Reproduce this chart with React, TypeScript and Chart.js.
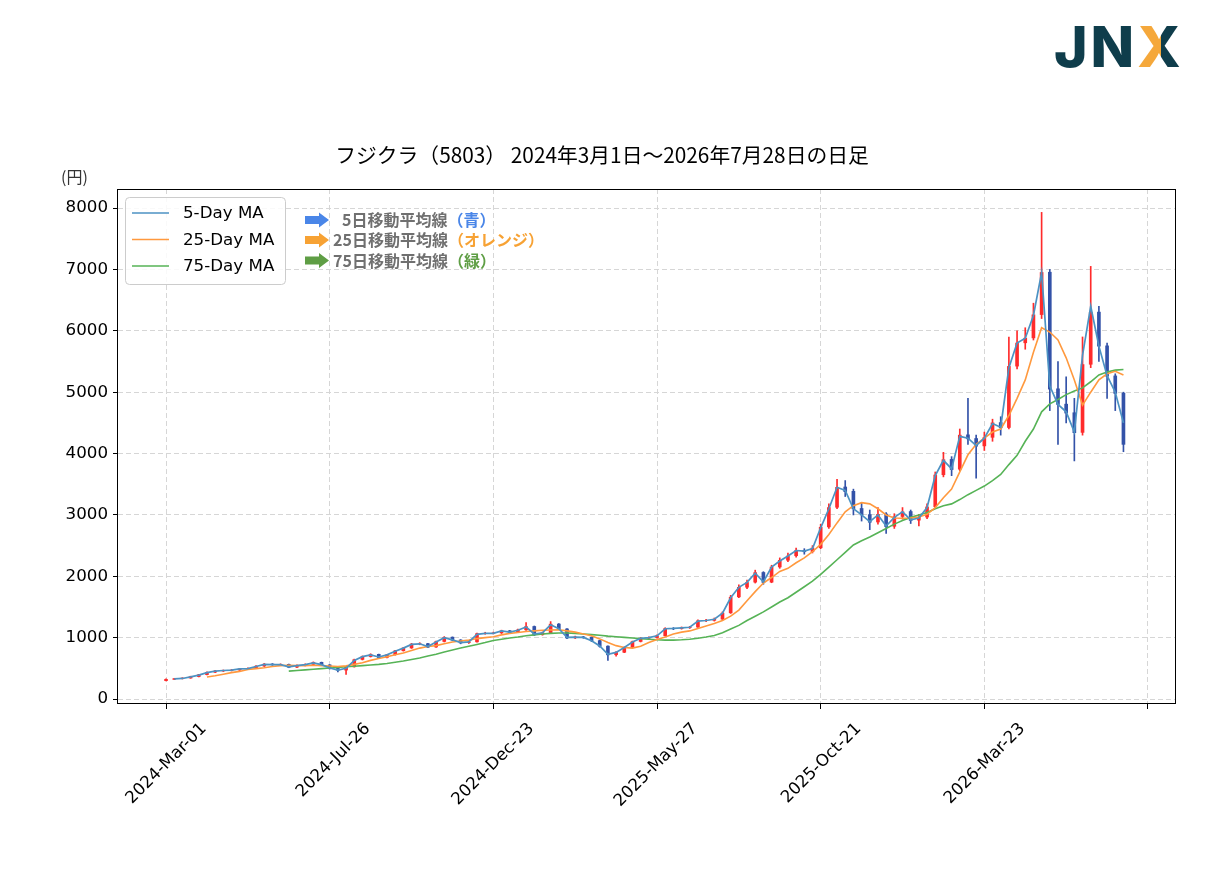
import { useEffect, useRef } from "react";
import { Chart, registerables } from "chart.js";

Chart.register(...registerables);

// values, one sample every STEP trading days (index 0 = 2024-03-01)
const STEP = 5;

const tickLabels = ["2024-Mar-01", "2024-Jul-26", "2024-Dec-23", "2025-May-27", "2025-Oct-21", "2026-Mar-23", ""];
const yTicks = [0, 1000, 2000, 3000, 4000, 5000, 6000, 7000, 8000];

const opens = [
  300, 322, 332, 342, 366, 398, 438, 458, 466, 472,
  494, 500, 538, 570, 560, 565, 520, 550, 565, 598,
  556, 498, 472, 525, 645, 692, 728, 678, 722, 788,
  832, 898, 902, 848, 938, 1008, 962, 918, 932, 1068,
  1072, 1078, 1112, 1088, 1128, 1182, 1048, 1082, 1222, 1142,
  998, 1012, 1008, 952, 862, 722, 762, 842, 938, 992,
  1002, 1032, 1152, 1148, 1162, 1172, 1278, 1282, 1302, 1405,
  1665, 1822, 1905, 2062, 1905, 2152, 2262, 2335, 2422, 2402,
  2465, 2805, 3125, 3455, 3385, 3105, 3005, 2885, 3015, 2815,
  2975, 3055, 2915, 2965, 3135, 3655, 3905, 3745, 4305, 4245,
  4125, 4265, 4505, 4425, 5425, 5805, 5885, 6265, 6955, 5055,
  4805, 4665, 4345, 5455, 6305, 5755, 5265, 4985,
];

const closes = [
  320, 330, 340, 365, 395, 435, 455, 462, 470, 492,
  498, 535, 568, 558, 562, 518, 548, 562, 595, 555,
  495, 470, 520, 640, 690, 725, 675, 720, 785, 830,
  895, 900, 845, 935, 1005, 960, 915, 930, 1065, 1070,
  1075, 1110, 1085, 1125, 1180, 1045, 1080, 1220, 1140, 995,
  1010, 1005, 950, 860, 720, 760, 840, 935, 990, 1000,
  1030, 1150, 1145, 1160, 1170, 1275, 1280, 1300, 1400, 1660,
  1820, 1900, 2060, 1900, 2150, 2260, 2330, 2420, 2400, 2460,
  2800, 3120, 3450, 3380, 3100, 3000, 2880, 3010, 2810, 2970,
  3050, 2910, 2960, 3130, 3650, 3900, 3740, 4300, 4240, 4120,
  4260, 4500, 4420, 5420, 5800, 5880, 6260, 6950, 5050, 4800,
  4660, 4340, 5450, 6300, 5750, 5260, 4980, 4150,
];

const highs = [
  330, 338, 348, 372, 402, 442, 466, 474, 482, 500,
  510, 545, 580, 578, 574, 570, 556, 572, 605, 602,
  560, 502, 528, 650, 702, 738, 732, 730, 795, 842,
  908, 918, 906, 945, 1018, 1012, 968, 942, 1075, 1088,
  1090, 1122, 1118, 1138, 1245, 1190, 1092, 1262, 1230, 1148,
  1025, 1022, 1012, 958, 868, 772, 850, 945, 1002, 1015,
  1045, 1162, 1165, 1175, 1185, 1290, 1300, 1320, 1420, 1690,
  1860, 1940, 2100, 2075, 2180, 2300, 2380, 2460, 2450, 2500,
  2850, 3180, 3580, 3560, 3420, 3200, 3080, 3120, 3040, 3020,
  3120, 3080, 3010, 3180, 3700, 4020, 3950, 4400, 4900, 4300,
  4350, 4560, 4600, 5900, 6000, 6050, 6450, 7930, 7000, 5500,
  5250, 4900, 5900, 7050, 6400, 5800, 5300, 5000,
];

const lows = [
  295, 318, 326, 338, 360, 392, 430, 448, 456, 466,
  485, 494, 530, 548, 548, 510, 512, 540, 556, 548,
  488, 440, 400, 520, 636, 684, 660, 670, 715, 780,
  825, 884, 835, 840, 930, 950, 900, 905, 925, 1055,
  1060, 1068, 1075, 1080, 1120, 1035, 1040, 1075, 1130, 985,
  985, 990, 935, 845, 630, 700, 755, 835, 930, 978,
  990, 1025, 1130, 1138, 1150, 1165, 1262, 1270, 1295, 1395,
  1650, 1800, 1890, 1870, 1895, 2130, 2240, 2310, 2360, 2380,
  2450, 2780, 3100, 3300, 3000, 2900, 2760, 2850, 2700, 2780,
  2930, 2860, 2820, 2940, 3120, 3620, 3640, 3720, 4150, 3600,
  4050, 4200, 4300, 4400, 5380, 5700, 5850, 6200, 4700, 4150,
  4500, 3880, 4300, 5400, 5500, 4900, 4700, 4030,
];

const ma5 = [
  null, 330, 335, 360, 390, 430, 455, 465, 470, 490,
  495, 530, 565, 560, 560, 525, 545, 560, 590, 560,
  505, 470, 500, 630, 690, 720, 685, 720, 780, 830,
  890, 900, 855, 930, 1000, 965, 920, 930, 1055, 1070,
  1070, 1110, 1090, 1120, 1175, 1060, 1080, 1210, 1145, 1005,
  1010, 1005, 950, 865, 730, 760, 840, 930, 990, 1000,
  1030, 1145, 1150, 1160, 1170, 1270, 1280, 1300, 1400, 1650,
  1820, 1900, 2050, 1910, 2150, 2250, 2330, 2420, 2410, 2450,
  2790, 3100, 3450, 3400, 3100, 3000, 2890, 3000, 2820, 2960,
  3050, 2920, 2950, 3120, 3640, 3890, 3750, 4280, 4250, 4130,
  4250, 4490, 4430, 5400, 5800, 5880, 6250, 6950, 5100, 4800,
  4680, 4350, 5600, 6400, 5750, 5270, 5000, 4500,
];

const ma25 = [
  null, null, null, null, null, 360, 380, 405, 430, 450,
  480, 495, 510, 530, 545, 550, 545, 545, 550, 545,
  537, 530, 540, 565, 590, 630, 660, 690, 720, 750,
  790, 830, 855, 870, 900, 930, 945, 960, 985, 1000,
  1015, 1045, 1070, 1085, 1100, 1110, 1120, 1125, 1130, 1110,
  1090, 1060, 1030, 980, 920, 870, 840, 830, 860, 920,
  970, 1010, 1060, 1090, 1110, 1150, 1190, 1230, 1280, 1350,
  1450, 1600, 1750, 1890, 1980, 2080, 2130, 2220, 2300, 2400,
  2520, 2680, 2870, 3050, 3150, 3200, 3180, 3100, 3000, 2950,
  2945, 2950, 2965, 3010, 3120, 3280, 3420, 3700, 3980, 4150,
  4250, 4350, 4400, 4620, 4900, 5200, 5650, 6050, 5980, 5850,
  5560, 5200, 4790, 5000, 5200, 5300, 5340, 5280,
];

const ma75 = [
  null, null, null, null, null, null, null, null, null, null,
  null, null, null, null, null, 455, 465, 475, 485, 495,
  505, 515, 525, 535, 545, 555, 565, 580, 600, 620,
  645, 670, 700, 730, 765, 800, 830, 860, 890, 920,
  955, 975, 995, 1010, 1030, 1045, 1060, 1070, 1075, 1075,
  1070, 1060, 1050, 1040, 1025, 1015, 1005, 995, 985, 975,
  965, 960, 960, 965, 975, 990, 1010, 1035, 1080, 1140,
  1200, 1280, 1350, 1420, 1500, 1580, 1650, 1740, 1830, 1920,
  2030, 2150, 2270, 2390, 2510, 2580, 2640, 2710, 2780, 2850,
  2910, 2960, 3000, 3040, 3100, 3150, 3180, 3250, 3330, 3400,
  3470, 3560, 3660, 3820, 3970, 4200, 4400, 4680, 4810, 4880,
  4960, 5020, 5070, 5170, 5280, 5330, 5360, 5370,
];

const UP = "#ff2b2b";
const DOWN = "#3352a8";
const FONT = '"DejaVu Sans", sans-serif';
const JP = '"Noto Sans CJK JP", sans-serif';

const toPoints = (arr: (number | null)[]) => arr.map((v, k) => ({ x: k * STEP, y: v }));

const overlay = {
  id: "overlay",
  beforeDraw(chart: Chart) {
    const { ctx } = chart;
    ctx.save();
    ctx.fillStyle = "#ffffff";
    ctx.fillRect(0, 0, chart.width, chart.height);
    ctx.restore();
  },
  afterDraw(chart: Chart) {
    const { ctx, chartArea: a } = chart;
    ctx.save();

    // axes frame
    ctx.strokeStyle = "#000";
    ctx.lineWidth = 1;
    ctx.strokeRect(Math.round(a.left) - 0.5, Math.round(a.top) + 0.5, Math.round(a.right - a.left) + 1, Math.round(a.bottom - a.top) - 1);

    // title and unit
    ctx.fillStyle = "#000";
    ctx.font = `20.8px ${JP}`;
    ctx.textAlign = "center";
    ctx.textBaseline = "middle";
    ctx.fillText("フジクラ（5803） 2024年3月1日～2026年7月28日の日足", 602, 155);
    ctx.font = `16px ${JP}`;
    ctx.textAlign = "left";
    ctx.fillStyle = "#333";
    ctx.fillText("(円)", 61, 177);

    // legend
    ctx.beginPath();
    ctx.roundRect(125.5, 197.5, 160, 87, 4);
    ctx.fillStyle = "rgba(255,255,255,0.85)";
    ctx.fill();
    ctx.strokeStyle = "#cccccc";
    ctx.stroke();
    const rows = [
      { label: "5-Day MA", color: "#4c92c3", y: 213 },
      { label: "25-Day MA", color: "#ff993e", y: 239.5 },
      { label: "75-Day MA", color: "#56b356", y: 266 },
    ];
    ctx.font = `16.7px ${FONT}`;
    for (const r of rows) {
      ctx.strokeStyle = r.color;
      ctx.lineWidth = 1.6;
      ctx.beginPath();
      ctx.moveTo(132, r.y);
      ctx.lineTo(169, r.y);
      ctx.stroke();
      ctx.fillStyle = "#000";
      ctx.fillText(r.label, 183, r.y + 1);
    }

    // arrows with notes
    const notes = [
      { text: "5日移動平均線", tag: "（青）", x: 342, y: 220, color: "#4a86e8" },
      { text: "25日移動平均線", tag: "（オレンジ）", x: 333, y: 240, color: "#f7a234" },
      { text: "75日移動平均線", tag: "（緑）", x: 333, y: 260.5, color: "#5f9e45" },
    ];
    ctx.font = `bold 16px ${JP}`;
    for (const n of notes) {
      ctx.fillStyle = n.color;
      ctx.beginPath();
      ctx.moveTo(305, n.y - 4);
      ctx.lineTo(319, n.y - 4);
      ctx.lineTo(319, n.y - 7.5);
      ctx.lineTo(329, n.y);
      ctx.lineTo(319, n.y + 7.5);
      ctx.lineTo(319, n.y + 4);
      ctx.lineTo(305, n.y + 4);
      ctx.closePath();
      ctx.fill();
      ctx.fillStyle = "#707070";
      ctx.fillText(n.text, n.x, n.y);
      const w = ctx.measureText(n.text).width;
      ctx.fillStyle = n.color;
      ctx.fillText(n.tag, n.x + w, n.y);
    }
    ctx.restore();
  },
};

export default function App() {
  const canvasRef = useRef<HTMLCanvasElement>(null);

  useEffect(() => {
    if (!canvasRef.current) return;
    const colors = closes.map((c, k) => (c >= opens[k] ? UP : DOWN));

    const grid = {
      offset: false,
      color: "#d6d6d6",
      lineWidth: 1,
      tickColor: "#000",
      tickLength: 5,
      tickWidth: 1,
      tickBorderDash: [],
    };

    const chart = new Chart(canvasRef.current, {
      type: "bar",
      data: {
        datasets: [
          { type: "line", label: "5-Day MA", data: toPoints(ma5), borderColor: "#4c92c3", borderWidth: 1.7, pointRadius: 0, order: 1 },
          { type: "line", label: "25-Day MA", data: toPoints(ma25), borderColor: "#ff993e", borderWidth: 1.6, pointRadius: 0, order: 2 },
          { type: "line", label: "75-Day MA", data: toPoints(ma75), borderColor: "#56b356", borderWidth: 1.6, pointRadius: 0, order: 3 },
          {
            type: "bar",
            label: "body",
            data: opens.map((o, k) => ({ x: k * STEP, y: [o, closes[k]] })),
            backgroundColor: colors,
            barThickness: 3,
            grouped: false,
            order: 5,
          },
          {
            type: "bar",
            label: "wick",
            data: lows.map((l, k) => ({ x: k * STEP, y: [l, highs[k]] })),
            backgroundColor: colors,
            barThickness: 1,
            grouped: false,
            order: 6,
          },
        ],
      } as any,
      options: {
        responsive: false,
        animation: false,
        events: [],
        layout: { padding: { left: 0, right: 47, top: 189, bottom: 0 } },
        plugins: { legend: { display: false }, tooltip: { enabled: false }, title: { display: false } },
        scales: {
          x: {
            type: "linear",
            min: -29.35,
            max: 616.5,
            offset: false,
            afterBuildTicks: (s: any) => {
              s.ticks = [0, 100, 200, 300, 400, 500, 600].map((v) => ({ value: v }));
            },
            afterFit: (s: any) => {
              s.height = 180;
            },
            grid,
            border: { display: false, dash: [5, 3] },
            ticks: {
              autoSkip: false,
              minRotation: 45,
              maxRotation: 45,
              color: "#000",
              padding: 10,
              labelOffset: 38,
              font: { family: FONT, size: 16.7 },
              callback: (v: any) => tickLabels[Math.round(Number(v) / 100)] ?? "",
            },
          },
          y: {
            type: "linear",
            min: -81,
            max: 8311,
            afterBuildTicks: (s: any) => {
              s.ticks = yTicks.map((v) => ({ value: v }));
            },
            afterFit: (s: any) => {
              s.width = 118;
            },
            grid,
            border: { display: false, dash: [5, 3] },
            ticks: {
              color: "#000",
              padding: 5,
              font: { family: FONT, size: 16.7 },
              callback: (v: any) => String(v),
            },
          },
        },
      } as any,
      plugins: [overlay],
    });

    return () => chart.destroy();
  }, []);

  return (
    <div style={{ position: "absolute", left: 0, top: 0, width: 1222, height: 884, background: "#fff" }}>
      <canvas ref={canvasRef} width={1222} height={884} style={{ width: 1222, height: 884, display: "block" }} />
      <div
        style={{
          position: "absolute",
          left: 1054,
          top: 12,
          fontFamily: "Inter, sans-serif",
          fontWeight: 800,
          fontSize: 57,
          lineHeight: "70px",
          color: "#0f3d4b",
          letterSpacing: 3,
        }}
      >
        JN
        <span
          style={{
            background: "linear-gradient(90deg, #f5a83b 50%, #0f3d4b 50%)",
            WebkitBackgroundClip: "text",
            backgroundClip: "text",
            color: "transparent",
          }}
        >
          X
        </span>
      </div>
    </div>
  );
}
